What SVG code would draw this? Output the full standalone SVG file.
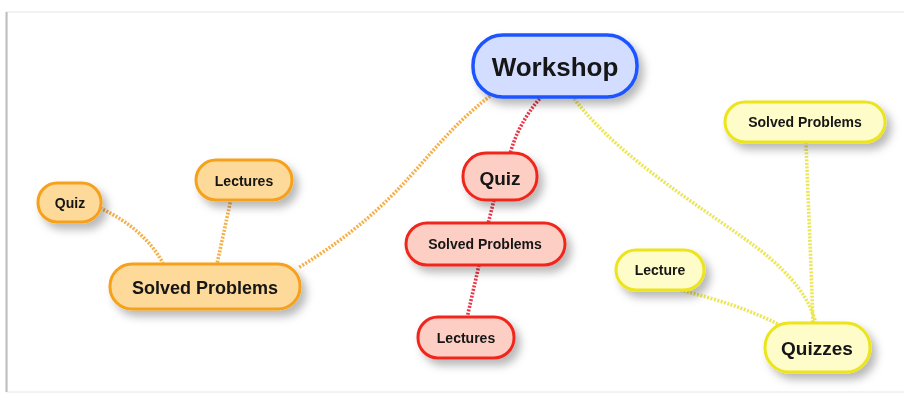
<svg xmlns="http://www.w3.org/2000/svg" width="904" height="393" viewBox="0 0 904 393">
<defs>
<style>
.t{font-family:"Liberation Sans",Arial,sans-serif;font-weight:bold;fill:#141414;text-anchor:middle;dominant-baseline:central}
.n{stroke-width:3}
.o{fill:#fdd99a;stroke:#f5a11c}
.r{fill:#fdcfc4;stroke:#f0281e}
.y{fill:#fefcc8;stroke:#ece41c}
.c{fill:none;stroke-width:3.6;stroke-dasharray:2 1.5}
.co{stroke:#f5b04a}
.cr{stroke:#e8384a}
.cy{stroke:#ece655}
</style>
<filter id="sh" x="-20%" y="-30%" width="150%" height="180%">
<feDropShadow dx="5" dy="6" stdDeviation="4" flood-color="#000" flood-opacity="0.28"/>
</filter>
</defs>
<rect x="0" y="0" width="904" height="393" fill="#fff"/>
<rect x="7" y="12" width="910" height="380" fill="#fff" stroke="#e6e6e6" stroke-width="1"/>
<line x1="6.5" y1="12" x2="6.5" y2="392" stroke="#bdbdbd" stroke-width="2"/>
<g id="connectors">
<path class="c co" d="M490,96 C420,150 410,200 298,268"/>
<path class="c co" d="M100,208 C130,222 150,240 163,263"/>
<path class="c co" d="M231,199 L217,264"/>
<path class="c cr" d="M542,96 C525,115 515,135 510,154"/>
<path class="c cr" d="M494,200 L488,224"/>
<path class="c cr" d="M479,265 L467,318"/>
<path class="c cy" d="M572,96 C620,160 700,205 760,250 C795,278 810,300 816,324"/>
<path class="c cy" d="M806,142 C808,200 811,260 813,324"/>
<path class="c cy" d="M680,290 C720,300 750,310 780,325"/>
</g>
<g id="workshop" filter="url(#sh)">
<rect x="473" y="35" width="164" height="62" rx="30" fill="#d3ddff" stroke="#1d55ff" stroke-width="3.5"/>
<text class="t" x="555" y="67" font-size="26">Workshop</text>
</g>
<g id="o-quiz" filter="url(#sh)">
<rect class="n o" x="38" y="183" width="63" height="39" rx="19"/>
<text class="t" x="70" y="203" font-size="14">Quiz</text>
</g>
<g id="o-lectures" filter="url(#sh)">
<rect class="n o" x="196" y="160" width="96" height="40" rx="20"/>
<text class="t" x="244" y="181" font-size="14">Lectures</text>
</g>
<g id="o-solved" filter="url(#sh)">
<rect class="n o" x="110" y="264" width="190" height="45" rx="22"/>
<text class="t" x="205" y="288" font-size="18">Solved Problems</text>
</g>
<g id="r-quiz" filter="url(#sh)">
<rect class="n r" x="463" y="153" width="74" height="47" rx="23"/>
<text class="t" x="500" y="178" font-size="19">Quiz</text>
</g>
<g id="r-solved" filter="url(#sh)">
<rect class="n r" x="406" y="223" width="159" height="42" rx="21"/>
<text class="t" x="485" y="244" font-size="14">Solved Problems</text>
</g>
<g id="r-lectures" filter="url(#sh)">
<rect class="n r" x="418" y="317" width="96" height="41" rx="20"/>
<text class="t" x="466" y="338" font-size="14">Lectures</text>
</g>
<g id="y-solved" filter="url(#sh)">
<rect class="n y" x="725" y="102" width="160" height="40" rx="20"/>
<text class="t" x="805" y="122" font-size="14">Solved Problems</text>
</g>
<g id="y-lecture" filter="url(#sh)">
<rect class="n y" x="616" y="250" width="88" height="40" rx="20"/>
<text class="t" x="660" y="270" font-size="14">Lecture</text>
</g>
<g id="y-quizzes" filter="url(#sh)">
<rect class="n y" x="765" y="323" width="105" height="49" rx="24"/>
<text class="t" x="817" y="348" font-size="19">Quizzes</text>
</g>
</svg>
